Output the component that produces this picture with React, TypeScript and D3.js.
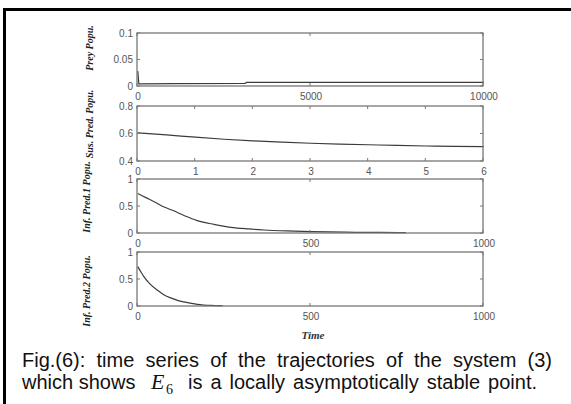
import * as d3 from "d3";
import React, { useLayoutEffect, useRef, useState } from "react";

// time series
const preyTime = [0, 30, 60, 120, 1000, 3100, 3150, 6000, 10000];
const preyPop = [0.028, 0.004, 0.004, 0.004, 0.0045, 0.005, 0.007, 0.007, 0.007];

const susTime = [0, 0.5, 1, 1.5, 2, 2.5, 3, 3.5, 4, 4.5, 5, 5.5, 6];
const susPop = [0.605, 0.59, 0.573, 0.558, 0.546, 0.537, 0.529, 0.523, 0.518, 0.513, 0.509, 0.506, 0.504];

const inf1Time = [0, 25, 50, 76, 100, 135, 172, 220, 269, 320, 365, 430, 500, 600, 700, 775];
const inf1Pop = [0.73, 0.65, 0.57, 0.48, 0.42, 0.32, 0.23, 0.16, 0.105, 0.075, 0.056, 0.038, 0.025, 0.015, 0.01, 0.008];

const inf2Time = [0, 10, 18, 35, 57, 75, 95, 115, 134, 155, 172, 190, 210, 245];
const inf2Pop = [0.73, 0.62, 0.54, 0.41, 0.29, 0.21, 0.15, 0.105, 0.075, 0.048, 0.03, 0.018, 0.01, 0.006];

const preyXTicks = [0, 5000, 10000];
const preyYTicks = [0, 0.05, 0.1];
const susXTicks = [0, 1, 2, 3, 4, 5, 6];
const susYTicks = [0.4, 0.6, 0.8];
const infXTicks = [0, 500, 1000];
const infYTicks = [0, 0.5, 1];

const yLabels = ["Prey Popu.", "Sus. Pred. Popu.", "Inf. Pred.1 Popu.", "Inf. Pred.2 Popu."];

const caption1 = "Fig.(6): time series of the trajectories of the system (3)";
const caption2a = "which shows";
const caption2b = "is a locally asymptotically stable point.";

const X0 = 137;
const X1 = 483;

const panels = [
  { top: 33, bottom: 86, xDomain: [0, 10000], yDomain: [0, 0.1], xTicks: preyXTicks, yTicks: preyYTicks, t: preyTime, v: preyPop, labelX: 93, labelY: 48, curve: d3.curveLinear },
  { top: 106, bottom: 161, xDomain: [0, 6], yDomain: [0.4, 0.8], xTicks: susXTicks, yTicks: susYTicks, t: susTime, v: susPop, labelX: 93, labelY: 124, curve: d3.curveMonotoneX },
  { top: 179, bottom: 233, xDomain: [0, 1000], yDomain: [0, 1], xTicks: infXTicks, yTicks: infYTicks, t: inf1Time, v: inf1Pop, labelX: 90, labelY: 197, curve: d3.curveMonotoneX },
  { top: 252, bottom: 306, xDomain: [0, 1000], yDomain: [0, 1], xTicks: infXTicks, yTicks: infYTicks, t: inf2Time, v: inf2Pop, labelX: 90, labelY: 291, curve: d3.curveMonotoneX },
];

const fmt = (d: number) => (d === 0 ? "0" : String(d));

function Panel({ p, idx }: { p: (typeof panels)[number]; idx: number }) {
  const x = d3.scaleLinear().domain(p.xDomain).range([X0, X1]);
  const y = d3.scaleLinear().domain(p.yDomain).range([p.bottom, p.top]);
  const pts = p.t.map((t, i) => [t, p.v[i]] as [number, number]);
  const line = d3
    .line<[number, number]>()
    .x((d) => x(d[0]) + 0.8)
    .y((d) => y(d[1]))
    .curve(p.curve);
  const tk = 3;
  const axisCol = "#777";
  return (
    <g>
      <path d={line(pts) ?? ""} fill="none" stroke="#3c3c3c" strokeWidth={1.2} />
      <rect x={X0} y={p.top} width={X1 - X0} height={p.bottom - p.top} fill="none" stroke={axisCol} strokeWidth={1.3} />
      {p.xTicks.map((t) => (
        <g key={"x" + t}>
          <line x1={x(t)} x2={x(t)} y1={p.bottom} y2={p.bottom - tk} stroke={axisCol} />
          <line x1={x(t)} x2={x(t)} y1={p.top} y2={p.top + tk} stroke={axisCol} />
          <text x={x(t) + 1} y={p.bottom + 14} textAnchor="middle" fontSize={10} fill="#555" fontFamily="Liberation Sans, Arial, sans-serif">
            {fmt(t)}
          </text>
        </g>
      ))}
      {p.yTicks.map((t) => (
        <g key={"y" + t}>
          <line x1={X0} x2={X0 + tk} y1={y(t)} y2={y(t)} stroke={axisCol} />
          <line x1={X1} x2={X1 - tk} y1={y(t)} y2={y(t)} stroke={axisCol} />
          <text x={133} y={y(t) + 3.5} textAnchor="end" fontSize={10} fill="#555" fontFamily="Liberation Sans, Arial, sans-serif">
            {fmt(t)}
          </text>
        </g>
      ))}
      <text
        transform={`translate(${p.labelX},${p.labelY}) rotate(-90)`}
        textAnchor="middle"
        fontSize={10}
        fontWeight="bold"
        fontStyle="italic"
        fill="#222"
        fontFamily="Liberation Serif, Times New Roman, serif"
      >
        {yLabels[idx]}
      </text>
    </g>
  );
}

// justified caption line: widen word gaps so the line spans the given width
function Justified({ x, y, width, text }: { x: number; y: number; width: number; text: string }) {
  const ref = useRef<SVGTextElement>(null);
  const [ws, setWs] = useState(0);
  useLayoutEffect(() => {
    if (!ref.current) return;
    const natural = ref.current.getComputedTextLength();
    const gaps = text.split(" ").length - 1;
    if (gaps > 0) setWs(Math.max(0, (width - natural) / gaps));
  }, [text, width]);
  return (
    <text ref={ref} x={x} y={y} style={{ wordSpacing: ws }}>
      {text}
    </text>
  );
}

export default function App() {
  return (
    <svg width={571} height={404} style={{ position: "absolute", left: 0, top: 0, background: "#fff" }}>
      <rect x={0} y={0} width={571} height={404} fill="#fff" />
      <rect x={4.5} y={9.5} width={600} height={420} fill="none" stroke="#000" strokeWidth={3} />
      {panels.map((p, i) => (
        <Panel key={i} p={p} idx={i} />
      ))}
      <text x={313} y={339} textAnchor="middle" fontSize={11} fontWeight="bold" fontStyle="italic" fill="#333" fontFamily="Liberation Serif, Times New Roman, serif">
        Time
      </text>
      <g fontFamily="Liberation Sans, Arial, sans-serif" fontSize={20} fill="#111">
        <Justified x={22} y={367} width={530} text={caption1} />
        <text x={22} y={389}>{caption2a}</text>
        <text x={151} y={389} fontFamily="Liberation Serif, Times New Roman, serif" fontStyle="italic" fontSize={22}>
          E
        </text>
        <text x={166} y={394} fontFamily="Liberation Serif, Times New Roman, serif" fontSize={14}>
          6
        </text>
        <Justified x={188} y={389} width={349} text={caption2b} />
      </g>
    </svg>
  );
}
